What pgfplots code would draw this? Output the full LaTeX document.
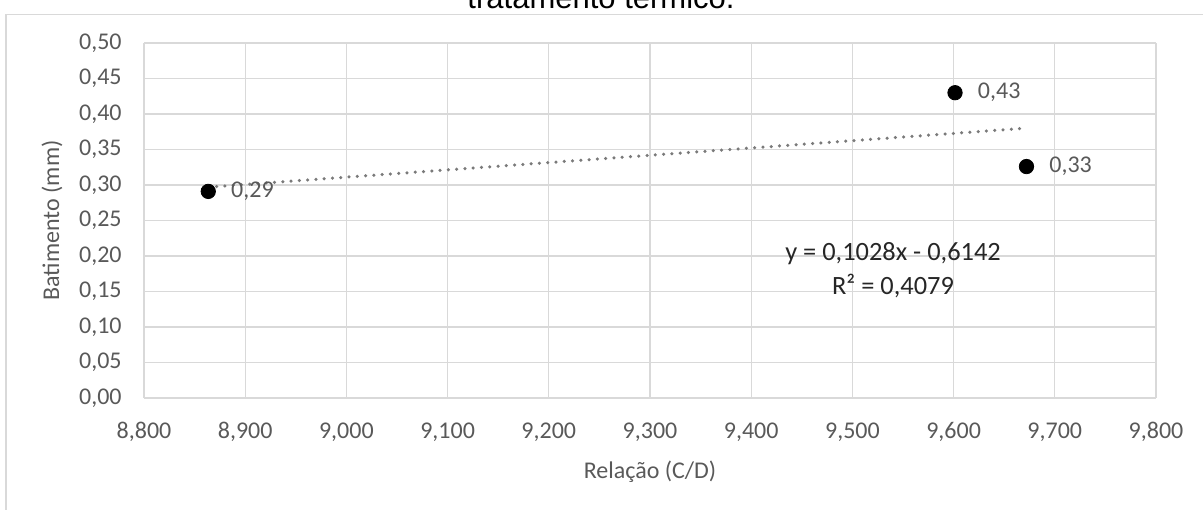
\documentclass[border=0pt]{standalone}
\usepackage{fontspec}
\setmainfont{Carlito}
\newfontfamily\arialfont{Liberation Sans}
\usepackage{pgfplots}
\pgfplotsset{compat=1.18}
\definecolor{gridgray}{HTML}{D9D9D9}
\definecolor{txtgray}{HTML}{595959}
\definecolor{trendgray}{HTML}{7A7A7A}
\begin{document}
\begin{tikzpicture}
\useasboundingbox (0,0) rectangle (601.5pt,-254.5pt);
\clip (0,0) rectangle (601.5pt,-254.5pt);
% frame of the chart area
\draw[gridgray, line width=0.6pt] (3pt,-270pt) -- (3pt,-7.3pt) -- (620pt,-7.3pt);
% title (cut off at the top, as in the reference)
\node[anchor=base, inner sep=0pt, font=\arialfont\fontsize{15.5pt}{18pt}\selectfont] at (300.5pt,-4pt) {tratamento térmico.};
\begin{axis}[
  at={(72pt,-199pt)}, anchor=south west,
  scale only axis, width=506pt, height=177.5pt,
  xmin=8.8, xmax=9.8, ymin=0, ymax=0.5,
  xtick={8.8,8.9,9.0,9.1,9.2,9.3,9.4,9.5,9.6,9.7,9.8},
  ytick={0,0.05,0.1,0.15,0.2,0.25,0.3,0.35,0.4,0.45,0.5},
  grid=major,
  major grid style={gridgray, line width=0.65pt},
  axis line style={draw=none},
  major tick length=0pt,
  tick label style={font=\fontsize{12pt}{14pt}\selectfont, text=txtgray},
  /pgf/number format/assume math mode=true,
  xticklabel style={/pgf/number format/.cd, fixed, fixed zerofill, precision=3, use comma, 1000 sep={}, /tikz/.cd, anchor=base, inner sep=0pt, yshift=-20pt},
  yticklabel style={/pgf/number format/.cd, fixed, fixed zerofill, precision=2, use comma, /tikz/.cd, anchor=east, inner sep=0pt, xshift=-11pt},
  clip=false,
]
\addplot[trendgray, line width=1.75pt, line cap=round, dash pattern=on 0pt off 4.15pt] coordinates {(8.8635,0.2970) (9.672,0.3801)};
\addplot[only marks, mark=*, mark size=3.6pt, mark options={fill=black, draw=black},
  point meta=explicit symbolic,
  nodes near coords,
  every node near coord/.append style={anchor=west, inner sep=0pt, xshift=11.25pt, yshift=0pt, text=txtgray, font=\fontsize{12pt}{14pt}\selectfont}]
  coordinates {(8.8635,0.291) [0,29] (9.6014,0.430) [0,43] (9.672,0.326) [0,33]};
\end{axis}
% axis titles
\node[anchor=base, inner sep=0pt, text=txtgray, font=\fontsize{12pt}{14pt}\selectfont] at (325pt,-239pt) {Relação (C/D)};
\node[rotate=90, anchor=base, inner sep=0pt, text=txtgray, font=\fontsize{12pt}{14pt}\selectfont] at (29.5pt,-110.25pt) {Batimento (mm)};
% trendline equation
\node[anchor=base, inner sep=0pt, text=black!85, font=\fontsize{13.2pt}{15pt}\selectfont] at (446.5pt,-130pt) {y = 0,1028x - 0,6142};
\node[anchor=base, inner sep=0pt, text=black!85, font=\fontsize{13.2pt}{15pt}\selectfont] at (446.5pt,-147pt) {R² = 0,4079};
\end{tikzpicture}
\end{document}
